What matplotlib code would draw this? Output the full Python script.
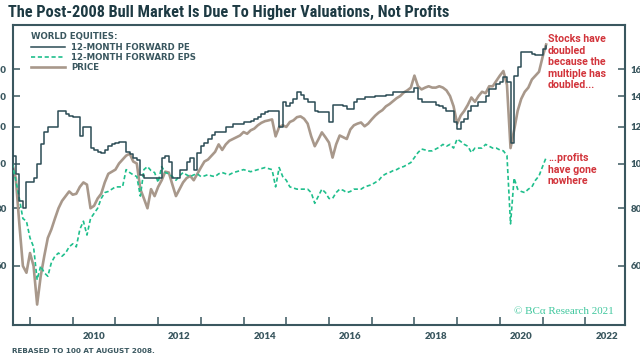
import numpy as np
import pandas as pd
import matplotlib
matplotlib.use("Agg")
import matplotlib.pyplot as plt
from matplotlib import font_manager
from matplotlib.lines import Line2D
from matplotlib.ticker import FixedLocator, NullLocator

# monthly readings, Aug 2008 .. Feb 2021, rebased to 100 at Aug 2008
PE_12M = [
    104, 95, 83, 80, 91,
    91, 93, 100, 110, 117, 120, 120, 120, 130, 130, 128, 126.5,
    126, 126, 114.5, 120, 120, 108, 107, 106, 105.6, 107, 109, 110,
    111, 111.6, 111.6, 106, 104.6, 103, 102, 94.6, 93, 93, 93, 93,
    93, 103, 103.6, 101, 93, 93, 97, 97, 101, 103, 97, 105.6,
    109, 111, 113, 115, 117, 117, 117, 119.7, 120, 121.5, 121.5, 122,
    122.7, 123, 123.5, 125, 126, 127.8, 129, 129.7, 129.7, 129.7, 120, 135.6,
    133, 135, 138, 142.6, 141, 137.7, 136, 135.6, 130, 129, 129, 129,
    123, 134, 134, 134, 133, 131, 131, 136, 137.7, 137.7, 139, 139,
    139, 140, 140, 140, 141, 141, 142.6, 142.6, 142.6, 142.6, 143, 143,
    146, 138, 136, 136, 136, 136, 134, 133, 132, 130, 130, 123,
    118.5, 123, 124.6, 130, 133, 133, 136, 136, 140, 144.7, 145, 148.5,
    150, 153.6, 150, 111, 154.6, 162, 174, 174, 174, 173, 172, 172,
    177, 180,
]
EPS_12M = [
    100, 92, 84, 76, 75,
    69, 66, 56, 60, 58, 57, 61, 63, 64, 63, 64, 66,
    67, 66, 72, 75, 70, 76, 78, 80, 84, 86.5, 87, 88,
    89, 89, 89, 97, 95.6, 94.5, 93.7, 85, 97, 98.5, 96.5, 95.6,
    91, 98.5, 95.6, 95, 93.7, 92, 94, 95.6, 94.5, 93.7, 94.5, 95,
    93.7, 94, 94.6, 94, 93.7, 95, 95.6, 95, 94.6, 95.5, 96, 96.5,
    97, 96.5, 96, 96.5, 97, 97.5, 98, 97.5, 97, 89, 98, 93.7,
    92, 89, 88.5, 88, 88, 88, 88, 86.5, 82, 85, 88, 86.5,
    84, 84, 86.5, 88, 87.5, 86.5, 87, 88, 88, 88, 89, 89.5,
    90, 91, 92, 94, 95, 95.6, 96.5, 97, 98, 98.5, 99.5, 100.5,
    103, 105.6, 107.5, 107, 106.5, 106.5, 107.5, 108.5, 110, 109, 110, 108,
    113, 111.6, 110, 109, 105.6, 108, 108, 108, 110, 109, 108, 108,
    107, 106.5, 104, 74, 93, 88, 87, 86.5, 88, 89, 92, 94,
    98.5, 103,
]
PRICE = [
    100, 93, 74, 60, 58,
    64, 60, 49.5, 57, 63, 69, 72, 76, 80, 83, 85, 87,
    85.6, 86, 89, 91, 90, 80, 81, 84, 86, 91, 95, 96,
    97, 100, 102, 104, 105, 101, 100, 88, 84, 80, 88, 85,
    89, 92, 96, 95.6, 90, 85, 88, 91, 93, 94, 92, 95,
    98, 101, 102, 104, 106, 110, 107, 110, 112, 113, 114, 115,
    117, 116, 118, 119, 121, 122.5, 123.5, 124, 124.6, 114.5, 120, 121,
    120, 123, 124, 126, 126.5, 125, 122, 114.5, 109, 112.7, 116.8, 114,
    111, 103, 110, 115, 114, 113, 118.5, 121, 122, 122.7, 120.4, 122,
    124.6, 127, 129, 130.5, 133, 134.5, 136.5, 138.5, 140, 142.5, 144, 146,
    155, 147, 144.7, 146, 147, 146, 146, 147, 146, 144, 140, 133,
    122, 127, 130, 134, 139, 136, 140, 143, 142, 147, 147, 151,
    155, 158.6, 148, 108, 118, 130, 138, 143, 146, 152, 155, 158,
    170, 181,
]
Y_TICKS = [60, 80, 100, 120, 140, 160]
YEAR_LABELS = [2010, 2012, 2014, 2016, 2018, 2020, 2022]

fechas = pd.date_range("2008-08-01", "2021-02-01", freq="MS")
t = fechas.year + (fechas.month - 1) / 12.0
assert len(t) == len(PE_12M) == len(EPS_12M) == len(PRICE)

C_PE = "#2b4c55"
C_EPS = "#1fbf8c"
C_PRICE = "#a8988b"
C_TXT = "#3a575f"
C_RED = "#d2343b"

nombres = {f.name for f in font_manager.fontManager.ttflist}
fuente_titulo = next((n for n in ["Roboto Condensed", "Liberation Sans Narrow", "DejaVu Sans Condensed"]
                      if n in nombres), "Roboto")

fig = plt.figure(figsize=(6.4, 3.6), dpi=100)
ax = fig.add_axes([12.5 / 640, 1 - 325 / 360, 612.5 / 640, 300.5 / 360])

ax.plot(t, PRICE, color=C_PRICE, lw=1.9, zorder=2)
ax.plot(t, EPS_12M, color=C_EPS, lw=1.2, dashes=(2.5, 1.6), zorder=3)
ax.step(t, PE_12M, where="post", color=C_PE, lw=1.1, zorder=4)

ax.set_yscale("log")
ax.set_ylim(44.7, 200)
ax.set_xlim(2008.59, 2022.93)

ax.yaxis.set_major_locator(FixedLocator(Y_TICKS))
ax.yaxis.set_minor_locator(NullLocator())
ax.set_yticklabels([str(v) for v in Y_TICKS])
ax.tick_params(axis="y", which="major", direction="in", length=5, width=1.1,
               color=C_TXT, labelsize=7, labelcolor=C_TXT, pad=4,
               left=True, right=True, labelleft=True, labelright=True)

ax.xaxis.set_major_locator(FixedLocator(list(range(2009, 2023))))
ax.xaxis.set_minor_locator(FixedLocator([y + 0.5 for y in YEAR_LABELS]))
ax.xaxis.set_major_formatter(plt.NullFormatter())
ax.set_xticklabels([str(y) for y in YEAR_LABELS], minor=True)
ax.tick_params(axis="x", which="major", direction="in", length=6, width=1.1, color=C_TXT)
ax.tick_params(axis="x", which="minor", length=0, labelsize=7, labelcolor=C_TXT, pad=5)

for lbl in ax.get_yticklabels() + ax.get_xticklabels(minor=True):
    lbl.set_fontfamily("Lato")
    lbl.set_fontweight("heavy")

for s in ax.spines.values():
    s.set_color(C_TXT)
    s.set_linewidth(1.5)

handles = [
    Line2D([], [], color=C_PE, lw=1.1),
    Line2D([], [], color=C_EPS, lw=1.2, dashes=(2.5, 1.6)),
    Line2D([], [], color=C_PRICE, lw=1.9),
]
fuente_ley = {"family": "DejaVu Sans", "weight": "bold", "size": 6.2}
leg = ax.legend(handles, ["12-MONTH FORWARD PE", "12-MONTH FORWARD EPS", "PRICE"],
                title="WORLD EQUITIES:", loc="upper left",
                bbox_to_anchor=(18.5 / 612.5, 1 - 8 / 300.5), frameon=False,
                prop=fuente_ley, title_fontproperties=fuente_ley,
                handlelength=3.9, handletextpad=0.8, labelspacing=0.12,
                borderpad=0, borderaxespad=0, alignment="left")
for txt in leg.get_texts():
    txt.set_color(C_TXT)
leg.get_title().set_color(C_TXT)

fig.text(8 / 640, 1 - 12.5 / 360, "The Post-2008 Bull Market Is Due To Higher Valuations, Not Profits",
         family=fuente_titulo, weight="bold", fontsize=11.7, color="#1d3a43", va="center", ha="left")

fig.text(548 / 640, 1 - 34 / 360, "Stocks have\ndoubled\nbecause the\nmultiple has\ndoubled...",
         family="Roboto", weight="bold", fontsize=7.6, color=C_RED, va="top", ha="left",
         linespacing=1.2)
fig.text(548 / 640, 1 - 153 / 360, "...profits\nhave gone\nnowhere",
         family="Roboto", weight="bold", fontsize=7.6, color=C_RED, va="top", ha="left",
         linespacing=1.2)

fig.text(614 / 640, 1 - 312 / 360, "© BCα Research 2021", family="Liberation Serif",
         fontsize=7.9, color="#3fc79d", ha="right", va="center")

fig.text(12 / 640, 1 - 351 / 360, "REBASED TO 100 AT AUGUST 2008.", family="DejaVu Sans",
         weight="bold", fontsize=5.2, color=C_TXT, ha="left", va="center")

fig.savefig("out.png", dpi=100)
